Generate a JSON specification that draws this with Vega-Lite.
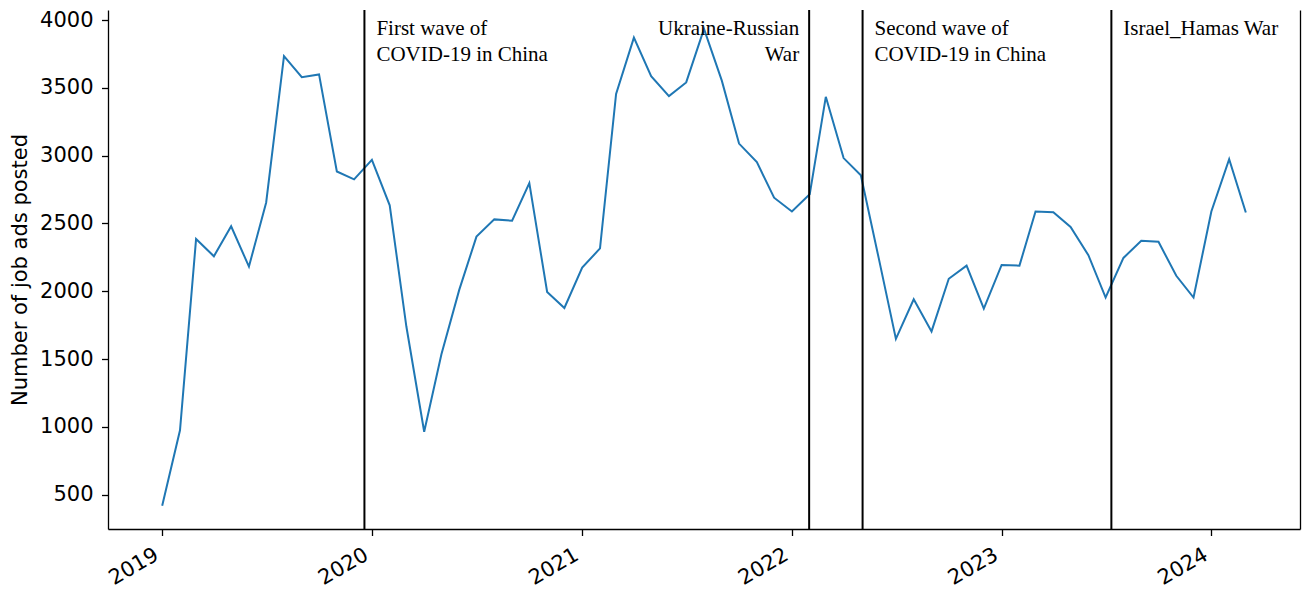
{
  "$schema": "https://vega.github.io/schema/vega-lite/v6.json",
  "width": 1192,
  "height": 519,
  "autosize": "none",
  "padding": {"left": 108, "top": 10, "right": 2, "bottom": 62},
  "background": "white",
  "config": {
    "view": {"stroke": null},
    "axis": {
      "grid": false,
      "domainColor": "black",
      "domainWidth": 1.3,
      "tickColor": "black",
      "tickWidth": 1.3,
      "tickSize": 6.5,
      "labelColor": "black",
      "labelFont": "DejaVu Sans",
      "labelFontSize": 21,
      "titleFont": "DejaVu Sans",
      "titleFontSize": 21,
      "titleFontWeight": "normal",
      "titleColor": "black"
    }
  },
  "datasets": {
    "ads": [
      {"date": "2019-01-01", "count": 418},
      {"date": "2019-02-01", "count": 975},
      {"date": "2019-03-01", "count": 2385},
      {"date": "2019-04-01", "count": 2258},
      {"date": "2019-05-01", "count": 2479},
      {"date": "2019-06-01", "count": 2182},
      {"date": "2019-07-01", "count": 2655},
      {"date": "2019-08-01", "count": 3734},
      {"date": "2019-09-01", "count": 3579},
      {"date": "2019-10-01", "count": 3599},
      {"date": "2019-11-01", "count": 2883},
      {"date": "2019-12-01", "count": 2825},
      {"date": "2020-01-01", "count": 2969},
      {"date": "2020-02-01", "count": 2634},
      {"date": "2020-03-01", "count": 1740},
      {"date": "2020-04-01", "count": 964},
      {"date": "2020-05-01", "count": 1535},
      {"date": "2020-06-01", "count": 2010},
      {"date": "2020-07-01", "count": 2403},
      {"date": "2020-08-01", "count": 2530},
      {"date": "2020-09-01", "count": 2520},
      {"date": "2020-10-01", "count": 2797},
      {"date": "2020-11-01", "count": 1995},
      {"date": "2020-12-01", "count": 1877},
      {"date": "2021-01-01", "count": 2174},
      {"date": "2021-02-01", "count": 2316},
      {"date": "2021-03-01", "count": 3455},
      {"date": "2021-04-01", "count": 3870},
      {"date": "2021-05-01", "count": 3586},
      {"date": "2021-06-01", "count": 3439},
      {"date": "2021-07-01", "count": 3540},
      {"date": "2021-08-01", "count": 3934},
      {"date": "2021-09-01", "count": 3553},
      {"date": "2021-10-01", "count": 3089},
      {"date": "2021-11-01", "count": 2952},
      {"date": "2021-12-01", "count": 2690},
      {"date": "2022-01-01", "count": 2588},
      {"date": "2022-02-01", "count": 2715},
      {"date": "2022-03-01", "count": 3434},
      {"date": "2022-04-01", "count": 2982},
      {"date": "2022-05-01", "count": 2855},
      {"date": "2022-06-01", "count": 2246},
      {"date": "2022-07-01", "count": 1649},
      {"date": "2022-08-01", "count": 1941},
      {"date": "2022-09-01", "count": 1704},
      {"date": "2022-10-01", "count": 2092},
      {"date": "2022-11-01", "count": 2189},
      {"date": "2022-12-01", "count": 1872},
      {"date": "2023-01-01", "count": 2194},
      {"date": "2023-02-01", "count": 2189},
      {"date": "2023-03-01", "count": 2588},
      {"date": "2023-04-01", "count": 2583},
      {"date": "2023-05-01", "count": 2474},
      {"date": "2023-06-01", "count": 2266},
      {"date": "2023-07-01", "count": 1954},
      {"date": "2023-08-01", "count": 2246},
      {"date": "2023-09-01", "count": 2372},
      {"date": "2023-10-01", "count": 2365},
      {"date": "2023-11-01", "count": 2114},
      {"date": "2023-12-01", "count": 1954},
      {"date": "2024-01-01", "count": 2588},
      {"date": "2024-02-01", "count": 2974},
      {"date": "2024-03-01", "count": 2581}
    ],
    "events": [
      {"date": "2019-12-19", "label": "First wave of\nCOVID-19 in China", "side": "left"},
      {"date": "2022-01-31", "label": "Ukraine-Russian\nWar", "side": "right"},
      {"date": "2022-05-04", "label": "Second wave of\nCOVID-19 in China", "side": "left"},
      {"date": "2023-07-11", "label": "Israel_Hamas War", "side": "left"}
    ]
  },
  "resolve": {"axis": {"y": "independent"}},
  "layer": [
    {
      "data": {"name": "ads"},
      "mark": {"type": "line", "color": "#1f77b4", "strokeWidth": 2},
      "encoding": {
        "x": {
          "field": "date",
          "type": "temporal",
          "scale": {
            "type": "utc",
            "domain": [
              {"year": 2018, "month": 9, "date": 28, "hours": 17, "utc": true},
              {"year": 2024, "month": 6, "date": 3, "hours": 7, "utc": true}
            ]
          },
          "axis": {
            "title": null,
            "format": "%Y",
            "values": [
              {"year": 2019, "month": 1, "date": 1, "utc": true},
              {"year": 2020, "month": 1, "date": 1, "utc": true},
              {"year": 2021, "month": 1, "date": 1, "utc": true},
              {"year": 2022, "month": 1, "date": 1, "utc": true},
              {"year": 2023, "month": 1, "date": 1, "utc": true},
              {"year": 2024, "month": 1, "date": 1, "utc": true}
            ],
            "labelAngle": -30,
            "labelAlign": "right",
            "labelBaseline": "top",
            "labelOffset": -11,
            "labelPadding": 8
          }
        },
        "y": {
          "field": "count",
          "type": "quantitative",
          "scale": {"domain": [247, 4074], "nice": false, "zero": false},
          "axis": {
            "title": "Number of job ads posted",
            "format": "d",
            "values": [500, 1000, 1500, 2000, 2500, 3000, 3500, 4000],
            "labelPadding": 8.5,
            "titlePadding": 9
          }
        }
      }
    },
    {
      "data": {"name": "events"},
      "mark": {"type": "rule", "color": "black", "strokeWidth": 2},
      "encoding": {
        "x": {"field": "date", "type": "temporal"}
      }
    },
    {
      "data": {"name": "events"},
      "transform": [{"filter": "datum.side === 'left'"}],
      "mark": {
        "type": "text",
        "align": "left",
        "baseline": "alphabetic",
        "dx": 12,
        "font": "Liberation Serif",
        "fontSize": 21,
        "lineHeight": 25.5,
        "lineBreak": "\n",
        "color": "black"
      },
      "encoding": {
        "x": {"field": "date", "type": "temporal"},
        "y": {
          "datum": 3886,
          "type": "quantitative",
          "axis": {"orient": "right", "labels": false, "ticks": false, "title": null, "domain": true}
        },
        "text": {"field": "label", "type": "nominal"}
      }
    },
    {
      "data": {"name": "events"},
      "transform": [{"filter": "datum.side === 'right'"}],
      "mark": {
        "type": "text",
        "align": "right",
        "baseline": "alphabetic",
        "dx": -10,
        "font": "Liberation Serif",
        "fontSize": 21,
        "lineHeight": 25.5,
        "lineBreak": "\n",
        "color": "black"
      },
      "encoding": {
        "x": {"field": "date", "type": "temporal"},
        "y": {"datum": 3886, "type": "quantitative", "axis": null},
        "text": {"field": "label", "type": "nominal"}
      }
    }
  ]
}
